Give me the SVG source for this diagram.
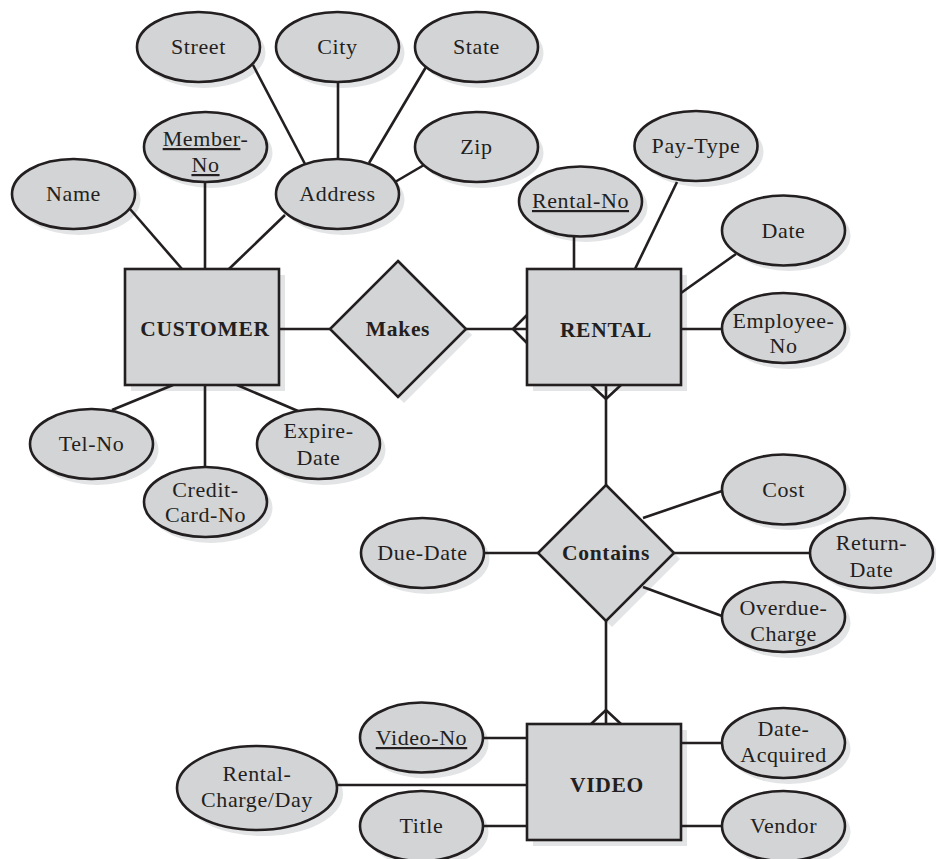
<svg xmlns="http://www.w3.org/2000/svg" width="936" height="859" viewBox="0 0 936 859">
  <defs>
    <style>
      .shape { fill: #d3d4d6; stroke: #231f20; stroke-width: 2.6; }
      .shadow { fill: #e3e4e5; stroke: none; }
      .conn line, .conn polyline { stroke: #231f20; stroke-width: 2.6; fill: none; }
      text { font-family: "Liberation Serif", "Times New Roman", serif; font-size: 22px; letter-spacing: 0.6px; fill: #231f20; text-anchor: middle; }
      .bold { font-weight: bold; font-size: 21.5px; letter-spacing: 0.7px; }
      .key { text-decoration: underline; }
    </style>
  </defs>
  <rect width="936" height="859" fill="#ffffff"/>

  <!-- soft drop shadows, laid under everything else -->
  <g id="shadows" class="shadow">
    <rect x="131" y="275" width="154" height="116"/>
    <rect x="533" y="275" width="154" height="116"/>
    <rect x="533" y="730" width="154" height="116"/>
    <polygon points="404,267 472,335 404,403 336,335"/>
    <polygon points="612,491 680,559 612,627 544,559"/>
    <ellipse cx="204" cy="53" rx="61.5" ry="35"/>
    <ellipse cx="343" cy="53" rx="61.5" ry="35"/>
    <ellipse cx="482" cy="53" rx="61.5" ry="35"/>
    <ellipse cx="482" cy="153" rx="61.5" ry="35"/>
    <ellipse cx="211" cy="153" rx="61.5" ry="35"/>
    <ellipse cx="79" cy="200" rx="61.5" ry="35"/>
    <ellipse cx="343" cy="200" rx="61.5" ry="35"/>
    <ellipse cx="97" cy="450" rx="61.5" ry="35"/>
    <ellipse cx="211" cy="508" rx="61.5" ry="35"/>
    <ellipse cx="324" cy="450" rx="61.5" ry="35"/>
    <ellipse cx="586" cy="207" rx="61.5" ry="35"/>
    <ellipse cx="702" cy="152" rx="61.5" ry="35"/>
    <ellipse cx="789" cy="236" rx="61.5" ry="35"/>
    <ellipse cx="789" cy="334" rx="61.5" ry="35"/>
    <ellipse cx="428" cy="559" rx="61.5" ry="35"/>
    <ellipse cx="789" cy="495" rx="61.5" ry="35"/>
    <ellipse cx="877" cy="559" rx="61.5" ry="35"/>
    <ellipse cx="789" cy="623" rx="61.5" ry="35"/>
    <ellipse cx="427" cy="743.5" rx="61.5" ry="35"/>
    <ellipse cx="263" cy="794" rx="80" ry="42"/>
    <ellipse cx="427" cy="832" rx="61.5" ry="35"/>
    <ellipse cx="789" cy="749" rx="61.5" ry="35"/>
    <ellipse cx="789" cy="832" rx="61.5" ry="35"/>
  </g>

  <!-- connectors -->
  <g id="connectors" class="conn">
    <line x1="130" y1="209" x2="182" y2="269"/>
    <line x1="205" y1="182" x2="205" y2="269"/>
    <line x1="285" y1="215" x2="229" y2="269"/>
    <line x1="253" y1="65" x2="305" y2="164"/>
    <line x1="338" y1="82" x2="338" y2="159"/>
    <line x1="426" y1="67" x2="369" y2="163"/>
    <line x1="424" y1="165" x2="395" y2="182"/>
    <line x1="279" y1="329" x2="330" y2="329"/>
    <line x1="466" y1="329" x2="527" y2="329"/>
    <polyline points="527,315 513,329 527,343"/>
    <line x1="574" y1="237" x2="574" y2="269"/>
    <line x1="677" y1="182" x2="635" y2="269"/>
    <line x1="736" y1="254" x2="681" y2="293"/>
    <line x1="681" y1="329" x2="722" y2="329"/>
    <line x1="173" y1="385" x2="112" y2="410"/>
    <line x1="205" y1="385" x2="205" y2="467"/>
    <line x1="237" y1="385" x2="298" y2="411"/>
    <line x1="606" y1="385" x2="606" y2="486"/>
    <polyline points="591,385 606,399 621,385"/>
    <line x1="484" y1="553" x2="538" y2="553"/>
    <line x1="643" y1="518" x2="722" y2="491"/>
    <line x1="674" y1="553" x2="811" y2="553"/>
    <line x1="643" y1="587" x2="722" y2="616"/>
    <line x1="606" y1="621" x2="606" y2="724"/>
    <polyline points="591,724 606,710 621,724"/>
    <line x1="483" y1="738" x2="527" y2="738"/>
    <line x1="337" y1="785" x2="527" y2="785"/>
    <line x1="483" y1="826" x2="527" y2="826"/>
    <line x1="681" y1="743" x2="722" y2="743"/>
    <line x1="681" y1="826" x2="722" y2="826"/>
  </g>

  <!-- entities -->
  <g id="customer">
    <rect class="shape" x="125" y="269" width="154" height="116"/>
    <text class="bold" x="205" y="336">CUSTOMER</text>
  </g>
  <g id="rental">
    <rect class="shape" x="527" y="269" width="154" height="116"/>
    <text class="bold" x="606" y="337">RENTAL</text>
  </g>
  <g id="video">
    <rect class="shape" x="527" y="724" width="154" height="116"/>
    <text class="bold" x="607" y="792">VIDEO</text>
  </g>

  <!-- relationships -->
  <g id="makes">
    <polygon class="shape" points="398,261 466,329 398,397 330,329"/>
    <text class="bold" x="398" y="336">Makes</text>
  </g>
  <g id="contains">
    <polygon class="shape" points="606,485 674,553 606,621 538,553"/>
    <text class="bold" x="606" y="560">Contains</text>
  </g>

  <!-- customer attributes -->
  <g id="attr-street">
    <ellipse class="shape" cx="198.5" cy="47" rx="61.5" ry="35"/>
    <text x="198.5" y="54">Street</text>
  </g>
  <g id="attr-city">
    <ellipse class="shape" cx="337.5" cy="47" rx="61.5" ry="35"/>
    <text x="337.5" y="54">City</text>
  </g>
  <g id="attr-state">
    <ellipse class="shape" cx="476.5" cy="47" rx="61.5" ry="35"/>
    <text x="476.5" y="54">State</text>
  </g>
  <g id="attr-zip">
    <ellipse class="shape" cx="476.5" cy="147" rx="61.5" ry="35"/>
    <text x="476.5" y="154">Zip</text>
  </g>
  <g id="attr-member-no">
    <ellipse class="shape" cx="205.5" cy="147" rx="61.5" ry="35"/>
    <text x="205.5" y="146"><tspan class="key">Member</tspan>-</text>
    <text class="key" x="205.5" y="172">No</text>
  </g>
  <g id="attr-name">
    <ellipse class="shape" cx="73.5" cy="194" rx="61.5" ry="35"/>
    <text x="73.5" y="201">Name</text>
  </g>
  <g id="attr-address">
    <ellipse class="shape" cx="337.5" cy="194" rx="61.5" ry="35"/>
    <text x="337.5" y="201">Address</text>
  </g>
  <g id="attr-tel-no">
    <ellipse class="shape" cx="91.5" cy="444" rx="61.5" ry="35"/>
    <text x="91.5" y="451">Tel-No</text>
  </g>
  <g id="attr-credit-card-no">
    <ellipse class="shape" cx="205.5" cy="502" rx="61.5" ry="35"/>
    <text x="205.5" y="497">Credit-</text>
    <text x="205.5" y="522">Card-No</text>
  </g>
  <g id="attr-expire-date">
    <ellipse class="shape" cx="318.5" cy="444" rx="61.5" ry="35"/>
    <text x="318.5" y="438">Expire-</text>
    <text x="318.5" y="465">Date</text>
  </g>

  <!-- rental attributes -->
  <g id="attr-rental-no">
    <ellipse class="shape" cx="580.5" cy="201.5" rx="61.5" ry="35"/>
    <text class="key" x="580.5" y="208">Rental-No</text>
  </g>
  <g id="attr-pay-type">
    <ellipse class="shape" cx="696" cy="146" rx="61.5" ry="35"/>
    <text x="696" y="153">Pay-Type</text>
  </g>
  <g id="attr-date">
    <ellipse class="shape" cx="783.5" cy="230.5" rx="61.5" ry="35"/>
    <text x="783.5" y="238">Date</text>
  </g>
  <g id="attr-employee-no">
    <ellipse class="shape" cx="783.5" cy="328" rx="61.5" ry="35"/>
    <text x="783.5" y="328">Employee-</text>
    <text x="783.5" y="353">No</text>
  </g>

  <!-- contains attributes -->
  <g id="attr-due-date">
    <ellipse class="shape" cx="422.5" cy="553" rx="61.5" ry="35"/>
    <text x="422.5" y="560">Due-Date</text>
  </g>
  <g id="attr-cost">
    <ellipse class="shape" cx="783.5" cy="489.5" rx="61.5" ry="35"/>
    <text x="783.5" y="497">Cost</text>
  </g>
  <g id="attr-return-date">
    <ellipse class="shape" cx="871.5" cy="553" rx="61.5" ry="35"/>
    <text x="871.5" y="550">Return-</text>
    <text x="871.5" y="577">Date</text>
  </g>
  <g id="attr-overdue-charge">
    <ellipse class="shape" cx="783.5" cy="617" rx="61.5" ry="35"/>
    <text x="783.5" y="615">Overdue-</text>
    <text x="783.5" y="641">Charge</text>
  </g>

  <!-- video attributes -->
  <g id="attr-video-no">
    <ellipse class="shape" cx="421.5" cy="737.5" rx="61.5" ry="35"/>
    <text class="key" x="421.5" y="745">Video-No</text>
  </g>
  <g id="attr-rental-charge-day">
    <ellipse class="shape" cx="257" cy="788" rx="80" ry="42"/>
    <text x="257" y="781">Rental-</text>
    <text x="257" y="807">Charge/Day</text>
  </g>
  <g id="attr-title">
    <ellipse class="shape" cx="421.5" cy="826" rx="61.5" ry="35"/>
    <text x="421.5" y="833">Title</text>
  </g>
  <g id="attr-date-acquired">
    <ellipse class="shape" cx="783.5" cy="743" rx="61.5" ry="35"/>
    <text x="783.5" y="736">Date-</text>
    <text x="783.5" y="762">Acquired</text>
  </g>
  <g id="attr-vendor">
    <ellipse class="shape" cx="783.5" cy="826" rx="61.5" ry="35"/>
    <text x="783.5" y="833">Vendor</text>
  </g>
</svg>
